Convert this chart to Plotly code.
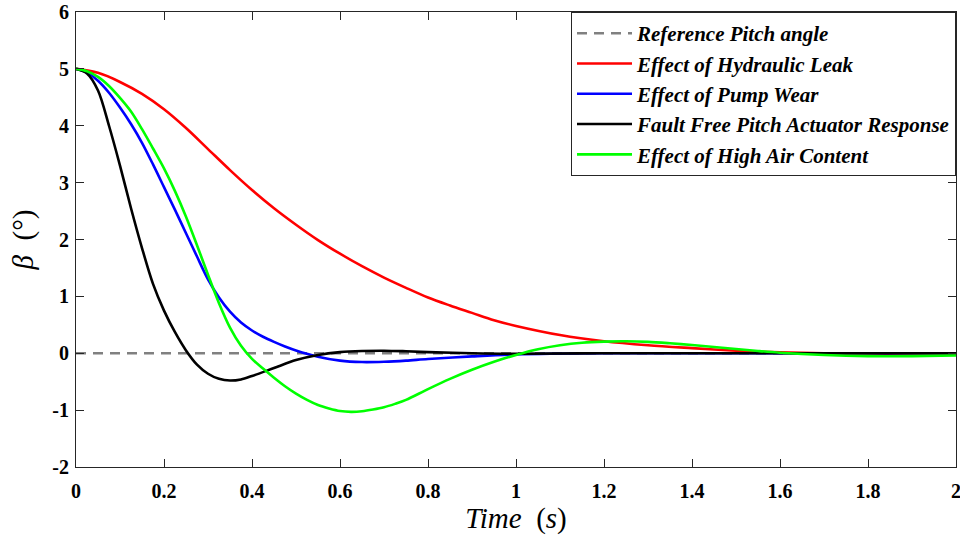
import plotly.graph_objects as go

# ---- data ----
ref_t = [0.0, 2.0]
ref_y = [0.0, 0.0]

leak_t = [0, 0.05, 0.1, 0.15, 0.2, 0.25, 0.3, 0.35, 0.4, 0.45, 0.5, 0.55, 0.6, 0.65, 0.7,
          0.75, 0.8, 0.85, 0.9, 0.95, 1.0, 1.1, 1.2, 1.3, 1.4, 1.5, 1.6, 1.7, 1.8, 1.9, 2.0]
leak_y = [5, 4.93, 4.77, 4.56, 4.29, 3.96, 3.59, 3.22, 2.87, 2.55, 2.26, 1.99, 1.75, 1.53, 1.33,
          1.15, 0.98, 0.84, 0.71, 0.58, 0.48, 0.32, 0.21, 0.14, 0.09, 0.045, 0.015, 0.0, -0.01, -0.01, -0.01]

pump_t = [0, 0.025, 0.05, 0.075, 0.1, 0.125, 0.15, 0.175, 0.2, 0.225, 0.25, 0.275, 0.3, 0.325,
          0.35, 0.375, 0.4, 0.425, 0.45, 0.475, 0.5, 0.55, 0.6, 0.65, 0.7, 0.75, 0.8, 0.9, 1.0,
          1.2, 1.5, 2.0]
pump_y = [5, 4.94, 4.79, 4.58, 4.32, 4.03, 3.70, 3.32, 2.92, 2.52, 2.11, 1.70, 1.30, 0.98,
          0.73, 0.54, 0.40, 0.29, 0.20, 0.12, 0.05, -0.06, -0.13, -0.155, -0.15, -0.13, -0.1,
          -0.055, -0.02, 0, 0, 0]

free_t = [0, 0.025, 0.05, 0.075, 0.1, 0.125, 0.15, 0.175, 0.2, 0.225, 0.25, 0.275, 0.3, 0.325,
          0.35, 0.375, 0.4, 0.45, 0.5, 0.55, 0.6, 0.65, 0.7, 0.75, 0.8, 0.9, 1.0, 1.2, 1.6, 2.0]
free_y = [5, 4.92, 4.62, 4.0, 3.3, 2.55, 1.85, 1.22, 0.75, 0.37, 0.05, -0.2, -0.36, -0.45,
          -0.48, -0.46, -0.4, -0.26, -0.12, -0.03, 0.02, 0.04, 0.045, 0.035, 0.02, 0.0, -0.01, 0, 0, 0]

air_t = [0, 0.025, 0.05, 0.075, 0.1, 0.125, 0.15, 0.175, 0.2, 0.225, 0.25, 0.275, 0.3, 0.325,
         0.35, 0.375, 0.4, 0.425, 0.45, 0.475, 0.5, 0.525, 0.55, 0.575, 0.6, 0.625, 0.65, 0.675,
         0.7, 0.725, 0.75, 0.8, 0.85, 0.9, 0.95, 1.0, 1.05, 1.1, 1.15, 1.2, 1.25, 1.3, 1.35, 1.4,
         1.45, 1.5, 1.55, 1.6, 1.7, 1.8, 1.9, 2.0]
air_y = [5, 4.96, 4.86, 4.7, 4.49, 4.25, 3.94, 3.6, 3.25, 2.85, 2.40, 1.90, 1.38, 0.88,
         0.45, 0.13, -0.1, -0.27, -0.43, -0.58, -0.71, -0.82, -0.91, -0.97, -1.015, -1.03, -1.02,
         -0.99, -0.95, -0.89, -0.82, -0.63, -0.45, -0.29, -0.15, -0.03, 0.07, 0.14, 0.185, 0.205,
         0.21, 0.2, 0.175, 0.145, 0.11, 0.075, 0.04, 0.01, -0.03, -0.05, -0.05, -0.04]

names = ["Reference Pitch angle", "Effect of Hydraulic Leak", "Effect of Pump Wear",
         "Fault Free Pitch Actuator Response", "Effect of High Air Content"]
colors = ["#808080", "#ff0000", "#0000ff", "#000000", "#00ff00"]

x_ticks = [0, 0.2, 0.4, 0.6, 0.8, 1, 1.2, 1.4, 1.6, 1.8, 2]
x_tick_text = ["0", "0.2", "0.4", "0.6", "0.8", "1", "1.2", "1.4", "1.6", "1.8", "2"]
y_ticks = [-2, -1, 0, 1, 2, 3, 4, 5, 6]
y_tick_text = ["-2", "-1", "0", "1", "2", "3", "4", "5", "6"]

fig = go.Figure()
fig.add_trace(go.Scatter(x=ref_t, y=ref_y, mode="lines", name=names[0],
                         line=dict(color=colors[0], width=2.5, dash="10px,7px")))
series = [(leak_t, leak_y), (pump_t, pump_y), (free_t, free_y), (air_t, air_y)]
for (tt, yy), nm, c in zip(series, names[1:], colors[1:]):
    fig.add_trace(go.Scatter(x=tt, y=yy, mode="lines", name=nm,
                             line=dict(color=c, width=2.6, shape="spline", smoothing=0.9)))

axis_common = dict(
    showline=True, linecolor="#262626", linewidth=1, mirror="ticks",
    ticks="inside", ticklen=8, tickwidth=1, tickcolor="#262626",
    showgrid=False, zeroline=False, ticklabeloverflow="allow", automargin=False,
    tickfont=dict(family="Liberation Serif", size=20, color="black", weight="bold"),
)

fig.update_layout(
    width=960, height=545,
    margin=dict(l=76, r=4, t=12, b=78),
    plot_bgcolor="white", paper_bgcolor="white",
    showlegend=True,
    legend=dict(x=1, y=1, xanchor="right", yanchor="top",
                bgcolor="white", bordercolor="#262626", borderwidth=1,
                itemwidth=55, tracegroupgap=0,
                font=dict(family="Liberation Serif", size=21, color="black",
                          weight="bold", style="italic")),
    xaxis=dict(range=[0, 2], tickvals=x_ticks, ticktext=x_tick_text,
               ticklabelstandoff=6,
               title=dict(text="<i>Time</i>  (<i>s</i>)", standoff=2,
                          font=dict(family="Liberation Serif", size=29, color="black")),
               **axis_common),
    yaxis=dict(range=[-2, 6], tickvals=y_ticks, ticktext=y_tick_text,
               ticklabelstandoff=2,
               title=dict(text="<i>β</i>  (°)", standoff=10,
                          font=dict(family="Liberation Serif", size=29, color="black")),
               **axis_common),
)

fig.write_html("out.html")
